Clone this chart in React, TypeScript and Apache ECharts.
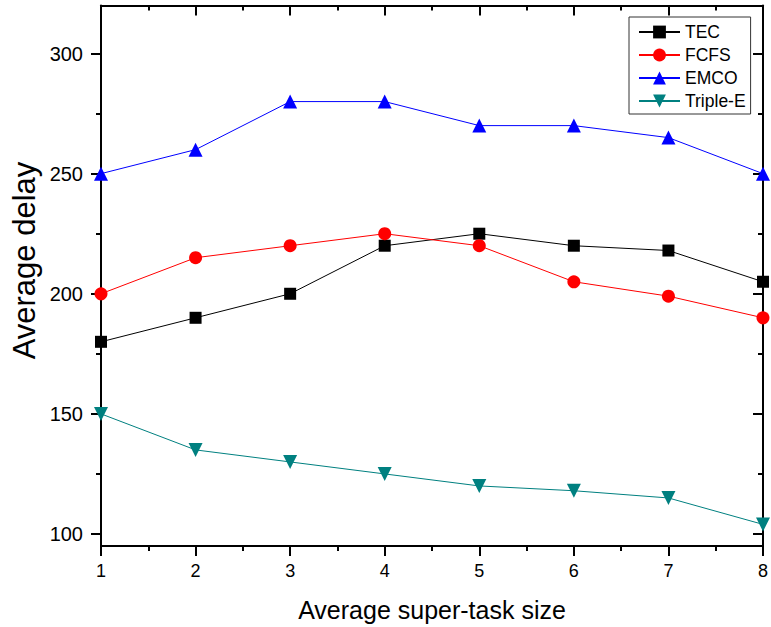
import React, { useEffect, useRef } from "react";
import * as echarts from "echarts";

const categories = [1, 2, 3, 4, 5, 6, 7, 8];
const tecValues = [180, 190, 200, 220, 225, 220, 218, 205];
const fcfsValues = [200, 215, 220, 225, 220, 205, 199, 190];
const emcoValues = [250, 260, 280, 280, 270, 270, 265, 250];
const tripleEValues = [150, 135, 130, 125, 120, 118, 115, 104];
const yMajorTicks = [100, 150, 200, 250, 300];
const yMinorTicks = [125, 175, 225, 275];
const xTitle = "Average super-task size";
const yTitle = "Average delay";

const FONT = "Liberation Sans, Arial, sans-serif";

function pairs(vals: number[]) {
  return categories.map((c, i) => [c, vals[i]]);
}

export default function App() {
  const ref = useRef<HTMLDivElement>(null);
  useEffect(() => {
    if (!ref.current) return;
    const chart = echarts.init(ref.current, undefined, { renderer: "svg" });
    const axisLine = { show: true, lineStyle: { color: "#000", width: 2 } };
    const yBase = { type: "value", min: 95, max: 320, splitLine: { show: false } };
    chart.setOption({
      animation: false,
      backgroundColor: "#fff",
      grid: { left: 101, right: 5, top: 5.5, bottom: 80 },
      legend: {
        left: 629,
        top: 17,
        orient: "vertical",
        borderColor: "#333",
        borderWidth: 1,
        padding: [6, 5, 4, 9],
        itemWidth: 41,
        itemHeight: 16,
        itemGap: 5,
        textStyle: { fontFamily: FONT, fontSize: 17.5, lineHeight: 17, color: "#000" },
        data: ["TEC", "FCFS", "EMCO", "Triple-E"],
      },
      graphic: [
        {
          type: "text",
          x: 24,
          y: 260.5,
          rotation: Math.PI / 2,
          style: {
            text: yTitle,
            font: "31px " + FONT,
            fill: "#000",
            textAlign: "center",
            textVerticalAlign: "middle",
          },
        },
      ],
      xAxis: [
        {
          type: "value",
          position: "bottom",
          min: 1,
          max: 8,
          interval: 1,
          axisLine,
          splitLine: { show: false },
          axisTick: { show: true, length: 10, lineStyle: { color: "#000", width: 2 } },
          minorTick: { show: true, splitNumber: 2, length: 5, lineStyle: { color: "#000", width: 2 } },
          axisLabel: { fontFamily: FONT, fontSize: 18, color: "#000", margin: 16 },
          name: xTitle,
          nameLocation: "middle",
          nameGap: 51,
          nameTextStyle: { fontFamily: FONT, fontSize: 25, color: "#000" },
        },
        {
          type: "value",
          position: "top",
          min: 1,
          max: 8,
          interval: 1,
          axisLine,
          splitLine: { show: false },
          axisTick: { show: true, inside: true, length: 10, lineStyle: { color: "#000", width: 2 } },
          minorTick: { show: true, splitNumber: 2, length: 5, lineStyle: { color: "#000", width: 2 } },
          axisLabel: { show: false },
        },
      ],
      yAxis: [
        {
          ...yBase,
          position: "left",
          axisLine,
          axisTick: { show: true, length: 10, customValues: yMajorTicks, lineStyle: { color: "#000", width: 2 } },
          axisLabel: { customValues: yMajorTicks, fontFamily: FONT, fontSize: 20, color: "#000", margin: 18 },
        },
        {
          ...yBase,
          position: "left",
          axisLine: { show: false },
          axisTick: { show: true, length: 5, customValues: yMinorTicks, lineStyle: { color: "#000", width: 2 } },
          axisLabel: { show: false },
        },
        {
          ...yBase,
          position: "right",
          axisLine,
          axisTick: { show: true, inside: true, length: 10, customValues: yMajorTicks, lineStyle: { color: "#000", width: 2 } },
          axisLabel: { show: false },
        },
        {
          ...yBase,
          position: "right",
          axisLine: { show: false },
          axisTick: { show: true, inside: true, length: 5, customValues: yMinorTicks, lineStyle: { color: "#000", width: 2 } },
          axisLabel: { show: false },
        },
      ],
      series: [
        {
          name: "TEC",
          type: "line",
          data: pairs(tecValues),
          symbol: "rect",
          symbolSize: 12,
          itemStyle: { color: "#000000" },
          lineStyle: { color: "#000000", width: 1 },
        },
        {
          name: "FCFS",
          type: "line",
          data: pairs(fcfsValues),
          symbol: "circle",
          symbolSize: 13,
          itemStyle: { color: "#ff0000" },
          lineStyle: { color: "#ff0000", width: 1 },
        },
        {
          name: "EMCO",
          type: "line",
          data: pairs(emcoValues),
          symbol: "triangle",
          symbolSize: 14,
          itemStyle: { color: "#0000ff" },
          lineStyle: { color: "#0000ff", width: 1 },
        },
        {
          name: "Triple-E",
          type: "line",
          data: pairs(tripleEValues),
          symbol: "triangle",
          symbolRotate: 180,
          symbolSize: 14,
          itemStyle: { color: "#008080" },
          lineStyle: { color: "#008080", width: 1 },
        },
      ],
    });
    return () => chart.dispose();
  }, []);
  return (
    <div
      ref={ref}
      style={{ position: "fixed", left: 0, top: 0, width: 771, height: 627 }}
    />
  );
}
